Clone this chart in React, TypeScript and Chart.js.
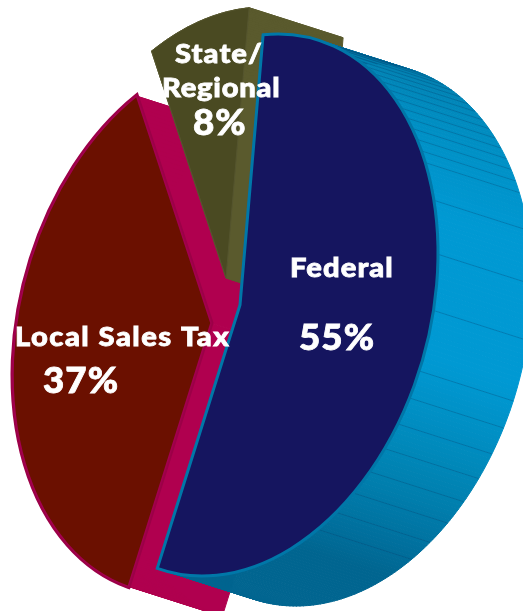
import React, { useEffect, useRef } from "react";
import { Chart, registerables } from "chart.js";

Chart.register(...registerables);

// ---- data ----
const categories = ["Federal", "Local Sales Tax", "State/Regional"];
const shares = [55, 37, 8];
const percentLabels = ["55%", "37%", "8%"];

// ---- styling ----
const faceColors = ["#15155F", "#6B1000", "#4A4A22"];
const faceBorders = ["#0077A8", "#A3004F", "#55552E"];
const faceBorderWidths = [3, 1.5, 1];
const sideColors = ["#0099D3", "#B0004F", "#5A5A2D"];

// ---- 3D projection of the unit pie ----
const AXIS_X = 198;
const SHEAR_Y = -52;
const AXIS_Y = 266;
const DEPTH_X = 94;
const DEPTH_Y = 30;
const sliceCentres: Record<string, [number, number]> = {
  Federal: [240, 305],
  "Local Sales Tax": [211, 323],
  "State/Regional": [226, 278],
};
const drawOrder = [1, 2, 0];

// label layout: text, x, baseline, font size, letter spacing
const labelLayout: [string, number, number, number, number][] = [
  ["Federal", 290, 277, 27, 1],
  ["Local Sales Tax", 15, 346, 27, 1.35],
  ["State/", 175, 63, 27, 1],
  ["Regional", 162, 97, 27, 0.7],
];
const percentLayout: [number, number, number][] = [
  [299, 350, 36],
  [43, 393, 36],
  [193, 135, 36],
];
const LABEL_STRETCH = 1.08;
const PERCENT_STRETCH = 1.02;

const bandStops: [number, number[]][] = [
  [-90, [0, 118, 166]],
  [-60, [0, 126, 174]],
  [-30, [0, 144, 197]],
  [-8, [0, 153, 211]],
  [22, [0, 153, 211]],
  [45, [0, 133, 181]],
  [62, [0, 114, 160]],
  [74, [0, 101, 144]],
  [125, [0, 101, 144]],
];

function bandColor(deg: number) {
  for (let i = 1; i < bandStops.length; i++) {
    const [d0, c0] = bandStops[i - 1];
    const [d1, c1] = bandStops[i];
    if (deg <= d1) {
      const k = (deg - d0) / (d1 - d0);
      const m = c0.map((v, j) => Math.round(v + (c1[j] - v) * k));
      return `rgb(${m[0]},${m[1]},${m[2]})`;
    }
  }
  return "rgb(0,101,144)";
}

function project(centre: [number, number], angle: number, radial: number, s: number) {
  const c = Math.cos(angle) * radial;
  const n = Math.sin(angle) * radial;
  return [
    centre[0] + AXIS_X * c + s * DEPTH_X,
    centre[1] + SHEAR_Y * c + AXIS_Y * n + s * DEPTH_Y,
  ];
}

function quad(ctx: CanvasRenderingContext2D, pts: number[][], color: string) {
  ctx.beginPath();
  pts.forEach((p, i) => (i ? ctx.lineTo(p[0], p[1]) : ctx.moveTo(p[0], p[1])));
  ctx.closePath();
  ctx.fillStyle = color;
  ctx.strokeStyle = color;
  ctx.lineWidth = 1;
  ctx.fill();
  ctx.stroke();
}

function facePath(ctx: CanvasRenderingContext2D, arc: any, centre: [number, number]) {
  const R = arc.outerRadius;
  const a = AXIS_X / R;
  const b = SHEAR_Y / R;
  const d = AXIS_Y / R;
  ctx.save();
  ctx.transform(a, b, 0, d, centre[0] - a * arc.x, centre[1] - b * arc.x - d * arc.y);
  ctx.beginPath();
  ctx.moveTo(arc.x, arc.y);
  ctx.arc(arc.x, arc.y, R, arc.startAngle, arc.endAngle);
  ctx.closePath();
  ctx.restore();
}

function showLine(deg: number) {
  if (deg >= 72) return false;
  const d = Math.round(deg + 83.3);
  if (deg < -20) return d % 3 === 0;
  if (deg < 24) return d % 12 === 0;
  return d % 6 === 0;
}

const pie3d = {
  id: "pie3d",
  beforeDatasetsDraw(chart: any) {
    const ctx: CanvasRenderingContext2D = chart.ctx;
    const arcs = chart.getDatasetMeta(0).data;
    ctx.save();
    ctx.lineJoin = "miter";
    drawOrder.forEach((idx) => {
      const arc = arcs[idx];
      const centre = sliceCentres[categories[idx]];
      const steps = Math.ceil(((arc.endAngle - arc.startAngle) * 180) / Math.PI);
      const dt = (arc.endAngle - arc.startAngle) / steps;
      const isFederal = idx === 0;

      if (!isFederal) {
        [arc.startAngle, arc.endAngle].forEach((edge: number) =>
          quad(
            ctx,
            [
              project(centre, 0, 0, 0),
              project(centre, edge, 1, 0),
              project(centre, edge, 1, 1),
              project(centre, 0, 0, 1),
            ],
            sideColors[idx]
          )
        );
      }
      for (let i = 0; i < steps; i++) {
        const t0 = arc.startAngle + i * dt;
        const t1 = t0 + dt;
        const mid = (((t0 + t1) / 2) * 180) / Math.PI;
        quad(
          ctx,
          [
            project(centre, t0, 1, 0),
            project(centre, t1, 1, 0),
            project(centre, t1, 1, 1),
            project(centre, t0, 1, 1),
          ],
          isFederal ? bandColor(mid) : sideColors[idx]
        );
      }
      if (isFederal) {
        ctx.lineWidth = 1;
        ctx.strokeStyle = "rgba(0,60,105,0.3)";
        for (let i = 1; i < steps; i++) {
          const t0 = arc.startAngle + i * dt;
          const deg = (t0 * 180) / Math.PI;
          if (!showLine(deg)) continue;
          const p = project(centre, t0, 1, 0);
          const q = project(centre, t0, 1, 1);
          ctx.beginPath();
          ctx.moveTo(p[0], p[1]);
          ctx.lineTo(q[0], q[1]);
          ctx.stroke();
        }
      }
      if (idx === 1) {
        facePath(ctx, arc, centre);
        ctx.lineWidth = 5;
        ctx.strokeStyle = "#9C0047";
        ctx.stroke();
      }
      facePath(ctx, arc, centre);
      ctx.fillStyle = arc.options.backgroundColor;
      ctx.fill();
      ctx.lineWidth = arc.options.borderWidth;
      ctx.strokeStyle = arc.options.borderColor;
      ctx.stroke();
    });
    ctx.restore();
    return false;
  },
  afterDraw(chart: any) {
    const ctx: any = chart.ctx;
    const put = (text: string, x: number, y: number, size: number, spacing: number, stretch: number) => {
      ctx.save();
      ctx.translate(x, y);
      ctx.scale(stretch, 1);
      ctx.font = `900 ${size}px Lato`;
      ctx.letterSpacing = `${spacing}px`;
      ctx.fillStyle = "#FFFFFF";
      ctx.strokeStyle = "#FFFFFF";
      ctx.lineWidth = 0.8;
      ctx.textAlign = "left";
      ctx.textBaseline = "alphabetic";
      ctx.strokeText(text, 0, 0);
      ctx.fillText(text, 0, 0);
      ctx.restore();
    };
    labelLayout.forEach(([text, x, y, size, spacing]) => put(text, x, y, size, spacing, LABEL_STRETCH));
    percentLabels.forEach((text, i) => {
      const [x, y, size] = percentLayout[i];
      put(text, x, y, size, 1, PERCENT_STRETCH);
    });
  },
};

export default function App() {
  const ref = useRef<HTMLCanvasElement>(null);
  useEffect(() => {
    if (!ref.current) return;
    const chart = new Chart(ref.current, {
      type: "pie",
      data: {
        labels: categories,
        datasets: [
          {
            data: shares,
            backgroundColor: faceColors,
            borderColor: faceBorders,
            borderWidth: faceBorderWidths,
          },
        ],
      },
      options: {
        responsive: false,
        animation: false,
        rotation: 6.7,
        layout: { padding: 0 },
        plugins: { legend: { display: false }, tooltip: { enabled: false } },
      },
      plugins: [pie3d],
    } as any);
    return () => chart.destroy();
  }, []);
  return (
    <div style={{ position: "absolute", left: 0, top: 0, width: 523, height: 611, overflow: "hidden" }}>
      <canvas ref={ref} width={523} height={611} style={{ display: "block" }} />
    </div>
  );
}
